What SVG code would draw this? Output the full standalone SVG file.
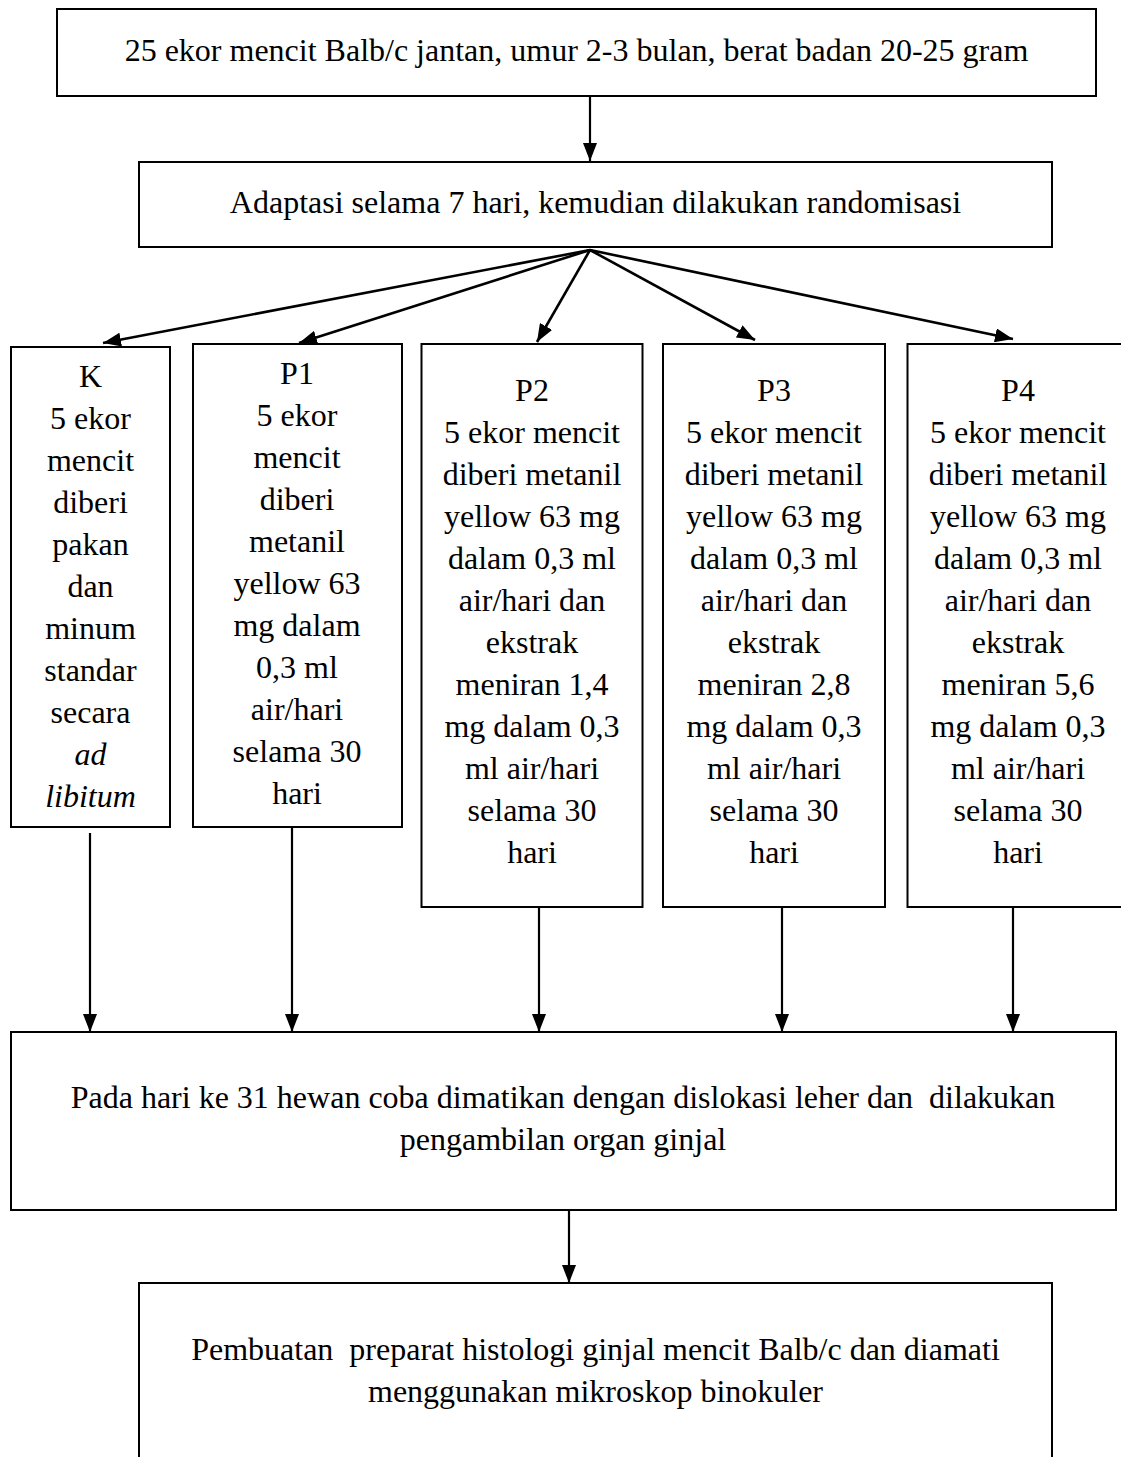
<svg xmlns="http://www.w3.org/2000/svg" width="1121" height="1457" viewBox="0 0 1121 1457">
<style>
.box{fill:#fff;stroke:#000;stroke-width:2}
.t{font-family:"Liberation Serif","Times New Roman",serif;font-size:32px;fill:#000;text-anchor:middle;white-space:pre}
.i{font-style:italic}
.c{stroke:#000;stroke-width:2.2;fill:none}
.f{stroke:#000;stroke-width:2.6;fill:none}
</style>
<defs>
<marker id="ah" markerUnits="userSpaceOnUse" markerWidth="18" markerHeight="14" refX="18" refY="7" orient="auto">
<path d="M0,0 L18,7 L0,14 z" fill="#000"/>
</marker>
</defs>
<rect width="1121" height="1457" fill="#fff"/>

<g id="connectors">
<line class="c" x1="590" y1="96" x2="590" y2="161" marker-end="url(#ah)"/>
<line class="f" x1="590" y1="250" x2="103" y2="343" marker-end="url(#ah)"/>
<line class="f" x1="590" y1="250" x2="299" y2="343" marker-end="url(#ah)"/>
<line class="f" x1="590" y1="250" x2="537" y2="342" marker-end="url(#ah)"/>
<line class="f" x1="590" y1="250" x2="755" y2="340" marker-end="url(#ah)"/>
<line class="f" x1="590" y1="250" x2="1013" y2="339" marker-end="url(#ah)"/>
<line class="c" x1="90" y1="833" x2="90" y2="1032" marker-end="url(#ah)"/>
<line class="c" x1="292" y1="828" x2="292" y2="1032" marker-end="url(#ah)"/>
<line class="c" x1="539" y1="907" x2="539" y2="1032" marker-end="url(#ah)"/>
<line class="c" x1="782" y1="907" x2="782" y2="1032" marker-end="url(#ah)"/>
<line class="c" x1="1013" y1="907" x2="1013" y2="1032" marker-end="url(#ah)"/>
<line class="c" x1="569" y1="1210" x2="569" y2="1283" marker-end="url(#ah)"/>
</g>

<g id="n-start">
<rect class="box" x="57" y="9" width="1039" height="87"/>
<text class="t" x="576.5" y="61">25 ekor mencit Balb/c jantan, umur 2-3 bulan, berat badan 20-25 gram</text>
</g>

<g id="n-adaptasi">
<rect class="box" x="139" y="162" width="913" height="85"/>
<text class="t" x="595.5" y="213">Adaptasi selama 7 hari, kemudian dilakukan randomisasi</text>
</g>

<g id="n-K">
<rect class="box" x="11" y="347" width="159" height="480"/>
<text class="t" x="90.5" y="387">K</text>
<text class="t" x="90.5" y="429">5 ekor</text>
<text class="t" x="90.5" y="471">mencit</text>
<text class="t" x="90.5" y="513">diberi</text>
<text class="t" x="90.5" y="555">pakan</text>
<text class="t" x="90.5" y="597">dan</text>
<text class="t" x="90.5" y="639">minum</text>
<text class="t" x="90.5" y="681">standar</text>
<text class="t" x="90.5" y="723">secara</text>
<text class="t i" x="90.5" y="765">ad</text>
<text class="t i" x="90.5" y="807">libitum</text>
</g>

<g id="n-P1">
<rect class="box" x="193" y="344" width="209" height="483"/>
<text class="t" x="297" y="384">P1</text>
<text class="t" x="297" y="426">5 ekor</text>
<text class="t" x="297" y="468">mencit</text>
<text class="t" x="297" y="510">diberi</text>
<text class="t" x="297" y="552">metanil</text>
<text class="t" x="297" y="594">yellow 63</text>
<text class="t" x="297" y="636">mg dalam</text>
<text class="t" x="297" y="678">0,3 ml</text>
<text class="t" x="297" y="720">air/hari</text>
<text class="t" x="297" y="762">selama 30</text>
<text class="t" x="297" y="804">hari</text>
</g>

<g id="n-P2">
<rect class="box" x="421.5" y="344" width="221" height="563"/>
<text class="t" x="532" y="401">P2</text>
<text class="t" x="532" y="443">5 ekor mencit</text>
<text class="t" x="532" y="485">diberi metanil</text>
<text class="t" x="532" y="527">yellow 63 mg</text>
<text class="t" x="532" y="569">dalam 0,3 ml</text>
<text class="t" x="532" y="611">air/hari dan</text>
<text class="t" x="532" y="653">ekstrak</text>
<text class="t" x="532" y="695">meniran 1,4</text>
<text class="t" x="532" y="737">mg dalam 0,3</text>
<text class="t" x="532" y="779">ml air/hari</text>
<text class="t" x="532" y="821">selama 30</text>
<text class="t" x="532" y="863">hari</text>
</g>

<g id="n-P3">
<rect class="box" x="663" y="344" width="222" height="563"/>
<text class="t" x="774" y="401">P3</text>
<text class="t" x="774" y="443">5 ekor mencit</text>
<text class="t" x="774" y="485">diberi metanil</text>
<text class="t" x="774" y="527">yellow 63 mg</text>
<text class="t" x="774" y="569">dalam 0,3 ml</text>
<text class="t" x="774" y="611">air/hari dan</text>
<text class="t" x="774" y="653">ekstrak</text>
<text class="t" x="774" y="695">meniran 2,8</text>
<text class="t" x="774" y="737">mg dalam 0,3</text>
<text class="t" x="774" y="779">ml air/hari</text>
<text class="t" x="774" y="821">selama 30</text>
<text class="t" x="774" y="863">hari</text>
</g>

<g id="n-P4">
<rect class="box" x="907.5" y="344" width="222" height="563"/>
<text class="t" x="1018" y="401">P4</text>
<text class="t" x="1018" y="443">5 ekor mencit</text>
<text class="t" x="1018" y="485">diberi metanil</text>
<text class="t" x="1018" y="527">yellow 63 mg</text>
<text class="t" x="1018" y="569">dalam 0,3 ml</text>
<text class="t" x="1018" y="611">air/hari dan</text>
<text class="t" x="1018" y="653">ekstrak</text>
<text class="t" x="1018" y="695">meniran 5,6</text>
<text class="t" x="1018" y="737">mg dalam 0,3</text>
<text class="t" x="1018" y="779">ml air/hari</text>
<text class="t" x="1018" y="821">selama 30</text>
<text class="t" x="1018" y="863">hari</text>
</g>

<g id="n-dislokasi">
<rect class="box" x="11" y="1032" width="1105" height="178"/>
<text class="t" x="563" y="1108">Pada hari ke 31 hewan coba dimatikan dengan dislokasi leher dan  dilakukan</text>
<text class="t" x="563" y="1150">pengambilan organ ginjal</text>
</g>

<g id="n-histologi">
<rect class="box" x="139" y="1283" width="913" height="190"/>
<text class="t" x="595.5" y="1360">Pembuatan  preparat histologi ginjal mencit Balb/c dan diamati</text>
<text class="t" x="595.5" y="1402">menggunakan mikroskop binokuler</text>
</g>
</svg>
